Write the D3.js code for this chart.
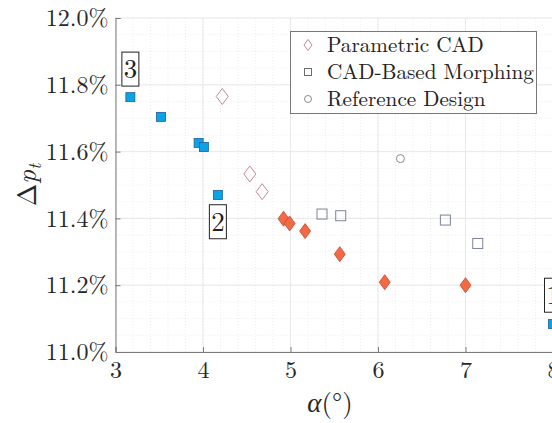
<!DOCTYPE html>
<html><head><meta charset="utf-8">
<script src="https://cdn.jsdelivr.net/npm/d3@7"></script>
<style>html,body{margin:0;padding:0;background:#fff;overflow:hidden}</style>
</head><body><svg id="c" width="552" height="423"></svg>
<script>
// ---- data ----
const xTicks = [3, 4, 5, 6, 7, 8];
const yTicks = [11.0, 11.2, 11.4, 11.6, 11.8, 12.0];
const seriesNames = ["Parametric CAD", "CAD-Based Morphing", "Reference Design"];

// Pareto/optimized (filled) points
const optMorphX = [3.17, 3.52, 3.95, 4.01, 4.17, 8.0];
const optMorphY = [11.763, 11.704, 11.626, 11.614, 11.47, 11.084];
const optParamX = [4.92, 4.99, 5.167, 5.563, 6.077, 7.0];
const optParamY = [11.399, 11.385, 11.362, 11.293, 11.209, 11.2];

// Hollow points
const paramX = [4.22, 4.535, 4.676];
const paramY = [11.765, 11.533, 11.48];
const morphX = [5.36, 5.574, 6.77, 7.14];
const morphY = [11.413, 11.408, 11.395, 11.325];
const refX = [6.256];
const refY = [11.579];

// Annotation labels
const labelText = ["3", "2", "1"];
const labelX = [3.17, 4.17, 8.0];
const labelY = [11.847, 11.39, 11.17];

// ---- layout ----
const FONT = '"Latin Modern Roman", "CMU Serif", "Liberation Serif", serif';
const svg = d3.select("#c");
const L = 115.5, R = 553, T = 18, B = 352;
const x = d3.scaleLinear().domain([3, 8]).range([L, R]);
const y = d3.scaleLinear().domain([11.0, 12.0]).range([B, T]);

// grid (minor then major)
const g = svg.append("g");
const xMinor = d3.range(3, 8.001, 0.2);
const yMinor = d3.range(11.0, 12.001, 0.05);
g.selectAll(".xm").data(xMinor).join("line")
  .attr("x1", d => x(d)).attr("x2", d => x(d)).attr("y1", T).attr("y2", B)
  .attr("stroke", "#e8e8e8").attr("stroke-width", 0.8).attr("stroke-dasharray", "1,2");
g.selectAll(".ym").data(yMinor).join("line")
  .attr("y1", d => y(d)).attr("y2", d => y(d)).attr("x1", L).attr("x2", R)
  .attr("stroke", "#e8e8e8").attr("stroke-width", 0.8).attr("stroke-dasharray", "1,2");
g.selectAll(".xg").data(xTicks).join("line")
  .attr("x1", d => x(d)).attr("x2", d => x(d)).attr("y1", T).attr("y2", B)
  .attr("stroke", "#e3e3e3").attr("stroke-width", 0.8);
g.selectAll(".yg").data(yTicks).join("line")
  .attr("y1", d => y(d)).attr("y2", d => y(d)).attr("x1", L).attr("x2", R)
  .attr("stroke", "#e3e3e3").attr("stroke-width", 0.8);

// axes
const xAxis = d3.axisBottom(x).tickValues(xTicks).tickSize(-5).tickPadding(9).tickFormat(d3.format("d"));
const yAxis = d3.axisLeft(y).tickValues(yTicks).tickSize(-5).tickPadding(7).tickFormat(d => d.toFixed(1) + "%");
const gx = svg.append("g").attr("transform", `translate(0,${B})`).call(xAxis);
const gy = svg.append("g").attr("transform", `translate(${L},0)`).call(yAxis);
[gx, gy].forEach(a => {
  a.attr("font-family", null);
  a.select(".domain").attr("stroke", "#7a7a7a").attr("stroke-width", 1);
  a.selectAll(".tick line").attr("stroke", "#7a7a7a");
  a.selectAll("text").attr("font-size", 24).attr("fill", "#262626");
});
gx.selectAll("text").attr("dy", "0.71em");

// axis labels
svg.append("text").attr("x", 330).attr("y", 412).attr("text-anchor", "middle")
  .attr("font-size", 27).attr("fill", "#262626")
  .html('<tspan font-style="italic">α</tspan>(°)');
svg.append("text").attr("transform", "translate(36,185) rotate(-90)").attr("text-anchor", "middle")
  .attr("font-size", 27).attr("fill", "#262626")
  .html('Δ<tspan font-style="italic">p</tspan><tspan font-style="italic" font-size="18" dy="5">t</tspan>');

// markers
const diamond = (w, h) => `M0,${-h/2}L${w/2},0L0,${h/2}L${-w/2},0Z`;
const plot = svg.append("g");

plot.selectAll(".pd").data(paramX.map((v, i) => [v, paramY[i]])).join("path")
  .attr("d", diamond(12, 16)).attr("transform", d => `translate(${x(d[0])},${y(d[1])})`)
  .attr("fill", "none").attr("stroke", "#c48a96").attr("stroke-width", 1);
plot.selectAll(".ms").data(morphX.map((v, i) => [v, morphY[i]])).join("rect")
  .attr("x", d => x(d[0]) - 5).attr("y", d => y(d[1]) - 5).attr("width", 10).attr("height", 10)
  .attr("fill", "none").attr("stroke", "#7b8399").attr("stroke-width", 1);
plot.selectAll(".rc").data(refX.map((v, i) => [v, refY[i]])).join("circle")
  .attr("cx", d => x(d[0])).attr("cy", d => y(d[1])).attr("r", 4)
  .attr("fill", "none").attr("stroke", "#8a8a8a").attr("stroke-width", 1);
plot.selectAll(".fd").data(optParamX.map((v, i) => [v, optParamY[i]])).join("path")
  .attr("d", diamond(11, 15)).attr("transform", d => `translate(${x(d[0])},${y(d[1])})`)
  .attr("fill", "#f26a45").attr("stroke", "#c8472e").attr("stroke-width", 0.8);
plot.selectAll(".fs").data(optMorphX.map((v, i) => [v, optMorphY[i]])).join("rect")
  .attr("x", d => x(d[0]) - 4.5).attr("y", d => y(d[1]) - 4.5).attr("width", 9).attr("height", 9)
  .attr("fill", "#0aa3e6").attr("stroke", "#1b5f9a").attr("stroke-width", 0.8);

// annotation boxes
const ann = svg.append("g");
const ab = ann.selectAll(".ab").data(labelText.map((t, i) => [t, labelX[i], labelY[i]])).join("g")
  .attr("transform", d => `translate(${x(d[1])},${y(d[2])})`);
ab.append("rect").attr("x", -8.5).attr("y", -17).attr("width", 17).attr("height", 34)
  .attr("fill", "#fff").attr("stroke", "#222").attr("stroke-width", 1);
ab.append("text").attr("text-anchor", "middle").attr("y", 9)
  .attr("font-size", 27).attr("fill", "#222").text(d => d[0]);

// legend
const lg = svg.append("g");
lg.append("rect").attr("x", 290.5).attr("y", 31.5).attr("width", 246).attr("height", 82)
  .attr("fill", "#fff").attr("stroke", "#777").attr("stroke-width", 1);
const rowY = [45, 72, 99];
const lx = 308;
lg.append("path").attr("d", diamond(8, 11)).attr("transform", `translate(${lx},${rowY[0]})`)
  .attr("fill", "none").attr("stroke", "#c48a96");
lg.append("rect").attr("x", lx - 3.5).attr("y", rowY[1] - 3.5).attr("width", 7).attr("height", 7)
  .attr("fill", "none").attr("stroke", "#6b6b6b");
lg.append("circle").attr("cx", lx).attr("cy", rowY[2]).attr("r", 3.5)
  .attr("fill", "none").attr("stroke", "#8a8a8a");
lg.selectAll(".lt").data(seriesNames).join("text")
  .attr("x", 327).attr("y", (d, i) => rowY[i]).attr("dy", "0.35em")
  .attr("font-size", 21.2).attr("fill", "#222").text(d => d);

svg.selectAll("text").style("font-family", FONT);
</script></body></html>
